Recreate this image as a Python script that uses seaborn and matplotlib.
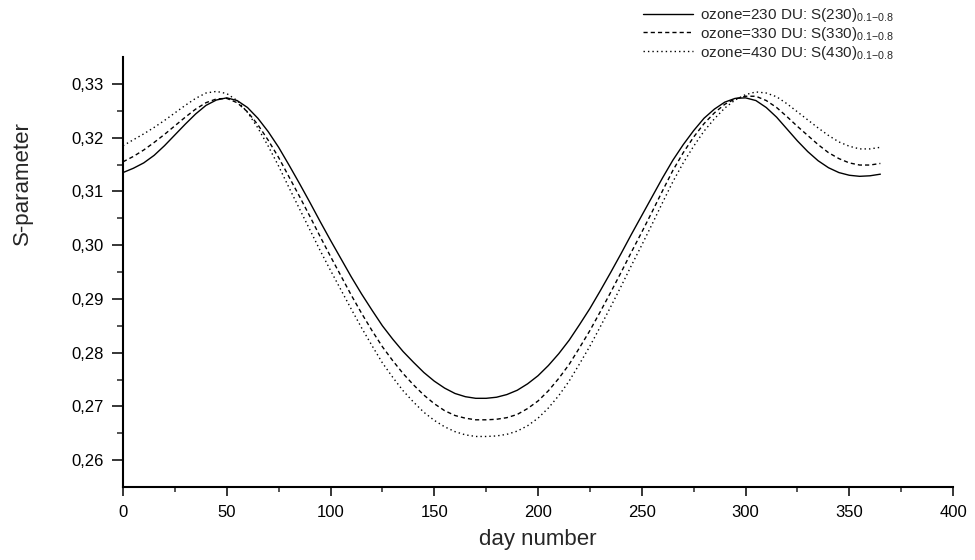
import matplotlib
matplotlib.use("Agg")
import matplotlib.pyplot as plt
import matplotlib.ticker as mticker
import seaborn as sns
import pandas as pd

# ---- data (day number, S-parameter) ----
days = [0, 5, 10, 15, 20, 25, 30, 35, 40, 45, 50, 55, 60, 65, 70, 75, 80, 85, 90, 95,
        100, 105, 110, 115, 120, 125, 130, 135, 140, 145, 150, 155, 160, 165, 170, 175, 180, 185, 190, 195,
        200, 205, 210, 215, 220, 225, 230, 235, 240, 245, 250, 255, 260, 265, 270, 275, 280, 285, 290, 295,
        300, 305, 310, 315, 320, 325, 330, 335, 340, 345, 350, 355, 360, 365]

s_230 = [0.3135, 0.3143, 0.3153, 0.3167, 0.3185, 0.3205, 0.3225, 0.3244, 0.3260, 0.3270,
         0.3274, 0.3269, 0.3256, 0.3236, 0.3211, 0.3182, 0.3149, 0.3115, 0.3080, 0.3044,
         0.3009, 0.2975, 0.2941, 0.2909, 0.2879, 0.2850, 0.2825, 0.2802, 0.2782, 0.2763,
         0.2747, 0.2734, 0.2724, 0.2718, 0.2715, 0.2715, 0.2717, 0.2722, 0.2730, 0.2742,
         0.2757, 0.2776, 0.2798, 0.2823, 0.2852, 0.2882, 0.2915, 0.2949, 0.2984, 0.3020,
         0.3055, 0.3090, 0.3125, 0.3158, 0.3187, 0.3213, 0.3236, 0.3253, 0.3266, 0.3273,
         0.3274, 0.3269, 0.3256, 0.3238, 0.3216, 0.3194, 0.3174, 0.3157, 0.3144, 0.3135,
         0.3130, 0.3128, 0.3129, 0.3132]

s_330 = [0.3155, 0.3165, 0.3177, 0.3191, 0.3206, 0.3222, 0.3238, 0.3253, 0.3265, 0.3272,
         0.3273, 0.3265, 0.3248, 0.3224, 0.3195, 0.3163, 0.3127, 0.3091, 0.3054, 0.3016,
         0.2979, 0.2943, 0.2907, 0.2873, 0.2841, 0.2811, 0.2785, 0.2761, 0.2740, 0.2721,
         0.2705, 0.2692, 0.2683, 0.2678, 0.2675, 0.2675, 0.2676, 0.2679, 0.2685, 0.2696,
         0.2710, 0.2729, 0.2752, 0.2778, 0.2809, 0.2841, 0.2876, 0.2912, 0.2949, 0.2987,
         0.3024, 0.3062, 0.3101, 0.3139, 0.3172, 0.3201, 0.3226, 0.3246, 0.3262, 0.3272,
         0.3277, 0.3277, 0.3269, 0.3256, 0.3239, 0.3221, 0.3204, 0.3187, 0.3172, 0.3161,
         0.3153, 0.3149, 0.3149, 0.3152]

s_430 = [0.3185, 0.3196, 0.3207, 0.3219, 0.3232, 0.3246, 0.3260, 0.3273, 0.3283, 0.3286,
         0.3282, 0.3269, 0.3247, 0.3218, 0.3184, 0.3147, 0.3107, 0.3068, 0.3029, 0.2990,
         0.2953, 0.2917, 0.2881, 0.2846, 0.2813, 0.2781, 0.2754, 0.2729, 0.2708, 0.2689,
         0.2674, 0.2662, 0.2653, 0.2647, 0.2644, 0.2644, 0.2645, 0.2648, 0.2654, 0.2664,
         0.2678, 0.2697, 0.2720, 0.2747, 0.2779, 0.2812, 0.2848, 0.2885, 0.2923, 0.2962,
         0.3000, 0.3039, 0.3079, 0.3118, 0.3153, 0.3184, 0.3212, 0.3235, 0.3255, 0.3270,
         0.3280, 0.3285, 0.3283, 0.3276, 0.3263, 0.3248, 0.3233, 0.3218, 0.3204, 0.3192,
         0.3184, 0.3179, 0.3179, 0.3182]

labels = [r"ozone=230 DU: S(230)$_{\mathregular{0.1{-}0.8}}$",
          r"ozone=330 DU: S(330)$_{\mathregular{0.1{-}0.8}}$",
          r"ozone=430 DU: S(430)$_{\mathregular{0.1{-}0.8}}$"]

df = pd.concat([
    pd.DataFrame({"day": days, "S": s_230, "series": labels[0]}),
    pd.DataFrame({"day": days, "S": s_330, "series": labels[1]}),
    pd.DataFrame({"day": days, "S": s_430, "series": labels[2]}),
], ignore_index=True)

sns.set_style("ticks")
plt.rcParams["font.family"] = ["Liberation Sans", "DejaVu Sans"]
plt.rcParams["mathtext.fontset"] = "custom"
plt.rcParams["mathtext.rm"] = "Liberation Sans"

fig = plt.figure(figsize=(9.75, 5.6), dpi=100)
ax = fig.add_axes([123 / 975, 1 - 487 / 560, 830 / 975, 430 / 560])

sns.lineplot(data=df, x="day", y="S", hue="series", style="series",
             palette={l: "black" for l in labels},
             dashes={labels[0]: "", labels[1]: (3.0, 2.2), labels[2]: (1.0, 2.2)},
             linewidth=1.0, ax=ax, legend=True, sort=True)

handles, labs = ax.get_legend_handles_labels()
ax.get_legend().remove()
fig.legend(handles, labs, loc="upper left", bbox_to_anchor=(643 / 975, 1 - 6 / 560),
           frameon=False, fontsize=11, handlelength=3.3, handletextpad=0.45,
           labelspacing=0.05, borderpad=0, borderaxespad=0)

ax.set_xlim(0, 400)
ax.set_ylim(0.255, 0.335)
ax.xaxis.set_major_locator(mticker.MultipleLocator(50))
ax.xaxis.set_minor_locator(mticker.MultipleLocator(25))
ax.yaxis.set_major_locator(mticker.FixedLocator([0.26, 0.27, 0.28, 0.29, 0.30, 0.31, 0.32, 0.33]))
ax.yaxis.set_minor_locator(mticker.FixedLocator([0.265, 0.275, 0.285, 0.295, 0.305, 0.315, 0.325]))
ax.yaxis.set_major_formatter(mticker.FuncFormatter(lambda v, p: f"{v:.2f}".replace(".", ",")))

for s in ["top", "right"]:
    ax.spines[s].set_visible(False)
for s in ["left", "bottom"]:
    ax.spines[s].set_linewidth(1.5)
    ax.spines[s].set_color("black")

ax.tick_params(axis="y", which="major", length=8, width=1.1, pad=6, labelsize=12, colors="black")
ax.tick_params(axis="y", which="minor", length=4.3, width=1.1)
ax.tick_params(axis="x", which="major", length=6.7, width=1.1, pad=6, labelsize=12, colors="black")
ax.tick_params(axis="x", which="minor", length=3.6, width=1.1)

ax.set_xlabel("")
ax.set_ylabel("")
fig.text(538 / 975, 1 - 540 / 560, "day number", ha="center", va="center", fontsize=16)
fig.text(22 / 975, 1 - 183 / 560, "S-parameter", ha="center", va="center", rotation=90, fontsize=16)

fig.savefig("out.png", dpi=100)
